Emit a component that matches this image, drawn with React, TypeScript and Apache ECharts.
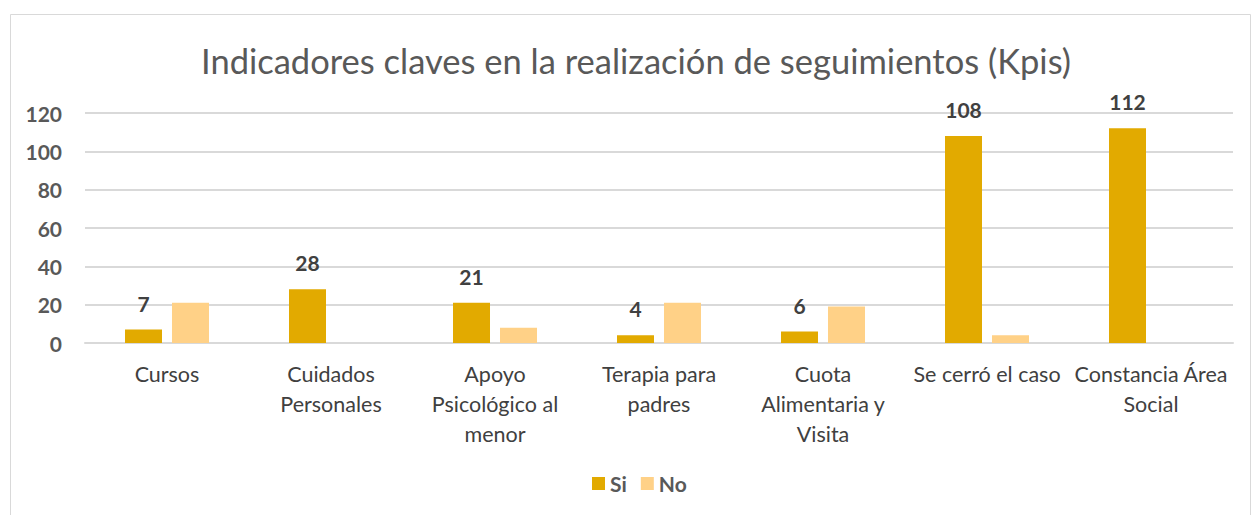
import React, { useEffect, useRef } from "react";
import * as echarts from "echarts";

const categories = [
  "Cursos",
  "Cuidados\nPersonales",
  "Apoyo\nPsicológico al\nmenor",
  "Terapia para\npadres",
  "Cuota\nAlimentaria y\nVisita",
  "Se cerró el caso",
  "Constancia Área\nSocial",
];
const siValues = [7, 28, 21, 4, 6, 108, 112];
const noValues = [21, 0, 8, 21, 19, 4, 0];
const titleText = "Indicadores claves en la realización de seguimientos (Kpis)";
const FONT = "Lato, 'Open Sans', sans-serif";

export default function App() {
  const ref = useRef<HTMLDivElement>(null);
  useEffect(() => {
    if (!ref.current) return;
    const chart = echarts.init(ref.current, null, { renderer: "svg" });
    chart.setOption({
      animation: false,
      textStyle: { fontFamily: FONT },
      graphic: [
        {
          type: "rect",
          shape: { x: 10.5, y: 14.5, width: 1240, height: 520 },
          style: { fill: "none", stroke: "#d9d9d9", lineWidth: 1 },
          silent: true,
        },
      ],
      title: {
        text: titleText,
        left: 196,
        top: 38,
        textStyle: { fontFamily: FONT, fontSize: 34.5, fontWeight: "normal", color: "#595959" },
      },
      legend: {
        data: ["Si", "No"],
        bottom: 16,
        left: 587,
        itemWidth: 13,
        itemHeight: 13,
        itemGap: 14,
        icon: "rect",
        textStyle: { fontFamily: FONT, fontSize: 21, fontWeight: "bold", color: "#595959" },
      },
      grid: { left: 85, right: 19, top: 113, bottom: 172, containLabel: false },
      xAxis: {
        type: "category",
        data: categories,
        axisLine: { lineStyle: { color: "#d9d9d9", width: 2 } },
        axisTick: { show: false },
        axisLabel: {
          interval: 0,
          fontFamily: FONT,
          fontSize: 21.5,
          color: "#404040",
          lineHeight: 30,
          margin: 16,
        },
      },
      yAxis: {
        type: "value",
        min: 0,
        max: 120,
        interval: 20,
        axisLine: { show: false },
        axisTick: { show: false },
        splitLine: { lineStyle: { color: "#d9d9d9", width: 2 } },
        axisLabel: {
          fontFamily: FONT,
          fontSize: 21,
          fontWeight: "bold",
          color: "#595959",
          margin: 23,
        },
      },
      series: [
        {
          name: "Si",
          type: "bar",
          data: siValues,
          barWidth: 37,
          barGap: "27%",
          itemStyle: { color: "#e2aa00" },
          label: {
            show: true,
            position: "top",
            distance: 16,
            fontFamily: FONT,
            fontSize: 21,
            fontWeight: "bold",
            color: "#404040",
          },
        },
        {
          name: "No",
          type: "bar",
          data: noValues,
          barWidth: 37,
          itemStyle: { color: "#ffd187" },
        },
      ],
    });
    return () => chart.dispose();
  }, []);
  return (
    <div
      ref={ref}
      style={{ position: "fixed", left: 0, top: 0, width: 1252, height: 515, background: "#fff" }}
    />
  );
}
